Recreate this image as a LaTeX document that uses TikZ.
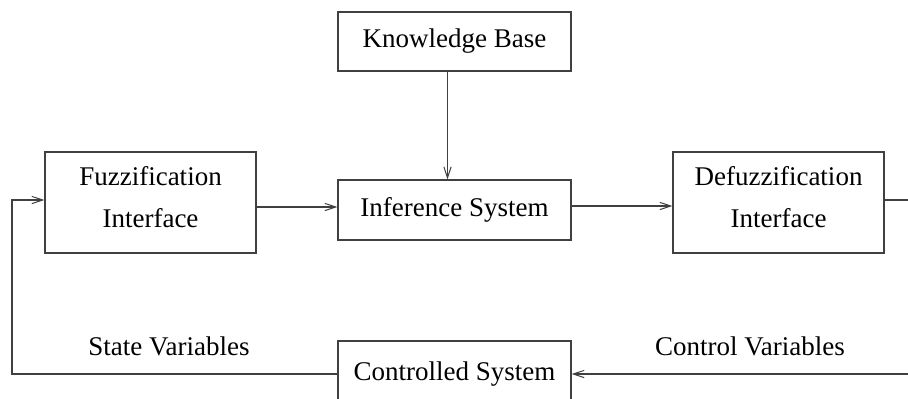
\documentclass[tikz,border=0pt]{standalone}
\usepackage{fontspec}
\setmainfont{Liberation Serif}
\usetikzlibrary{arrows.meta}

\tikzset{
  blk/.style={draw=black!75,line width=0.55pt,inner sep=0pt,align=center,
    font=\fontsize{13.5}{21}\selectfont},
  lbl/.style={anchor=base,inner sep=0pt,font=\fontsize{13.5}{16}\selectfont},
  conn/.style={draw=black!75,line width=0.55pt},
  arr/.style={conn,-{Straight Barb[length=5.5pt,width=3.6pt,line width=0.5pt]}}
}

\begin{document}
\begin{tikzpicture}[x=0.5pt,y=-0.5pt]

\useasboundingbox (0,0) rectangle (908,398) ;

\node[blk,minimum width=116.5pt,minimum height=29.5pt] (kb) at (454.5,41.5) {Knowledge Base} ;
\node[blk,minimum width=116.5pt,minimum height=30pt] (inf) at (454.5,210) {Inference System} ;
\node[blk,minimum width=105.5pt,minimum height=50.5pt,text depth=6pt] (fuzz) at (150.5,202.5) {Fuzzification\\Interface} ;
\node[blk,minimum width=105.5pt,minimum height=50.5pt,text depth=6pt] (defuzz) at (778.5,202.5) {Defuzzification\\Interface} ;
\node[blk,minimum width=116.5pt,minimum height=33pt] (ctrl) at (454.5,374) {Controlled System} ;

\node[lbl] (state) at (169,355) {State Variables} ;
\node[lbl] (control) at (750,355) {Control Variables} ;

\coordinate (outr) at (912,200) ;
\coordinate (outl) at (12,374) ;

\draw[arr] ([xshift=-3.5pt]kb.south) -- ([xshift=-3.5pt]inf.north) ;
\draw[arr] ([yshift=-2.25pt]fuzz.east) -- ([yshift=1.5pt]inf.west) ;
\draw[arr] ([yshift=2pt]inf.east) -- ([yshift=-1.75pt]defuzz.west) ;

\draw[arr] ([yshift=1.25pt]defuzz.east) -- (outr) |- (ctrl.east) ;
\draw[arr] (ctrl.west) -- (outl) |- ([yshift=1.25pt]fuzz.west) ;

\end{tikzpicture}
\end{document}
